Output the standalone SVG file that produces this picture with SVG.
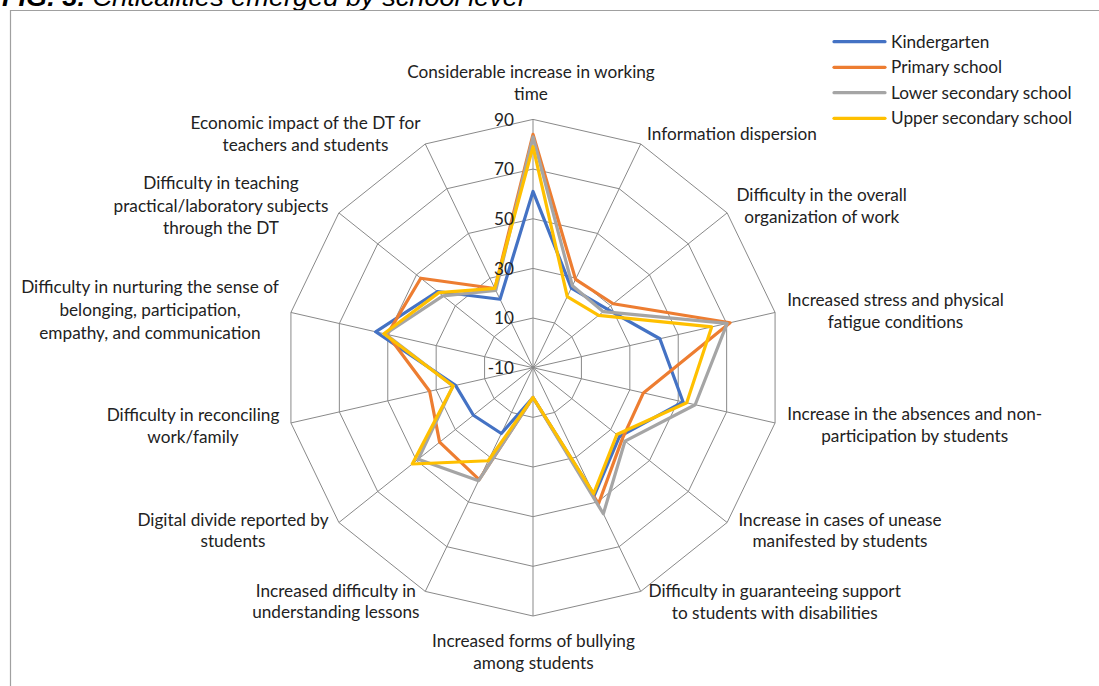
<svg xmlns="http://www.w3.org/2000/svg" xmlns:xlink="http://www.w3.org/1999/xlink" width="1099" height="686" viewBox="0 0 1099 686">
<style>
  .frame { fill:none; stroke:#a0a0a0; stroke-width:1.2; }
  .title { font-family:"Liberation Sans", Arial, sans-serif; font-size:26px; font-style:italic; fill:#000; }
  .title .b { font-weight:bold; }
  .ring, .spokes { fill:none; stroke:#898989; stroke-width:1; vector-effect:non-scaling-stroke; }
  .series { fill:none; stroke-width:3.2; stroke-linejoin:round; vector-effect:non-scaling-stroke; }
  .s1 { stroke:#4472C4; }
  .s2 { stroke:#ED7D31; }
  .s3 { stroke:#A5A5A5; }
  .s4 { stroke:#FFC000; }
  .lbl { font-family:Lato, "Liberation Sans", sans-serif; font-size:17.2px; fill:#222; text-anchor:middle; }
  .tick { font-family:Lato, "Liberation Sans", sans-serif; font-size:17.2px; fill:#222; text-anchor:end; }
  .leg { font-family:Lato, "Liberation Sans", sans-serif; font-size:17.2px; fill:#222; }
  .legline { stroke-width:3.2; stroke-linecap:round; }
</style>

<g id="title">
  <text class="title" x="2" y="6" textLength="522" lengthAdjust="spacingAndGlyphs"><tspan class="b">FIG. 3.</tspan> Criticalities emerged by school level</text>
</g>

<g id="frame">
  <path class="frame" d="M10.5,686 L10.5,10.5 L1099,10.5"/>
</g>

<g id="chart" transform="translate(533 367.7) scale(2.483)">
  <g id="grid">
    <polygon id="ring" class="ring" points="0,-100 43.39,-90.10 78.18,-62.35 97.49,-22.25 97.49,22.25 78.18,62.35 43.39,90.10 0,100 -43.39,90.10 -78.18,62.35 -97.49,22.25 -97.49,-22.25 -78.18,-62.35 -43.39,-90.10"/>
    <polygon class="ring" points="0,-80 34.71,-72.08 62.54,-49.88 77.99,-17.80 77.99,17.80 62.54,49.88 34.71,72.08 0,80 -34.71,72.08 -62.54,49.88 -77.99,17.80 -77.99,-17.80 -62.54,-49.88 -34.71,-72.08"/>
    <polygon class="ring" points="0,-60 26.03,-54.06 46.91,-37.41 58.49,-13.35 58.49,13.35 46.91,37.41 26.03,54.06 0,60 -26.03,54.06 -46.91,37.41 -58.49,13.35 -58.49,-13.35 -46.91,-37.41 -26.03,-54.06"/>
    <polygon class="ring" points="0,-40 17.36,-36.04 31.27,-24.94 39.00,-8.90 39.00,8.90 31.27,24.94 17.36,36.04 0,40 -17.36,36.04 -31.27,24.94 -39.00,8.90 -39.00,-8.90 -31.27,-24.94 -17.36,-36.04"/>
    <polygon class="ring" points="0,-20 8.68,-18.02 15.64,-12.47 19.50,-4.45 19.50,4.45 15.64,12.47 8.68,18.02 0,20 -8.68,18.02 -15.64,12.47 -19.50,4.45 -19.50,-4.45 -15.64,-12.47 -8.68,-18.02"/>
    <path class="spokes" d="M0,0 L0,-100 M0,0 L43.39,-90.10 M0,0 L78.18,-62.35 M0,0 L97.49,-22.25 M0,0 L97.49,22.25 M0,0 L78.18,62.35 M0,0 L43.39,90.10 M0,0 L0,100 M0,0 L-43.39,90.10 M0,0 L-78.18,62.35 M0,0 L-97.49,22.25 M0,0 L-97.49,-22.25 M0,0 L-78.18,-62.35 M0,0 L-43.39,-90.10"/>
  </g>
  <g id="series">
    <polygon id="kindergarten" class="series s1" points="0,-71 15.45,-32.07 29.71,-23.69 51.09,-11.66 60.45,13.80 34.79,27.75 24.73,51.36 0,12 -12.76,26.49 -24.00,19.14 -31.20,7.12 -63.37,-14.46 -38.47,-30.68 -13.28,-27.57"/>
    <polygon id="primary" class="series s2" points="0,-94 17.14,-35.59 32.29,-25.75 79.36,-18.11 44.46,10.15 35.96,28.68 26.38,54.78 0,12 -21.69,45.05 -37.61,29.99 -41.63,9.50 -58.69,-13.40 -45.19,-36.04 -15.36,-31.89"/>
    <polygon id="lower-secondary" class="series s3" points="0,-93 15.88,-32.98 28.30,-22.57 78.19,-17.85 65.32,14.91 37.06,29.55 28.33,58.83 0,12 -21.91,45.50 -46.21,36.85 -32.17,7.34 -59.47,-13.57 -36.28,-28.93 -15.01,-31.17"/>
    <polygon id="upper-secondary" class="series s4" points="0,-89 13.80,-28.65 26.43,-21.07 71.95,-16.42 61.91,14.13 33.77,26.93 24.43,50.72 0,12 -18.05,37.48 -48.63,38.78 -32.17,7.34 -60.06,-13.71 -37.92,-30.24 -15.40,-31.98"/>
  </g>
</g>

<g id="ticks">
  <text class="tick" x="514" y="125.5">90</text>
  <text class="tick" x="514" y="175.2">70</text>
  <text class="tick" x="514" y="224.8">50</text>
  <text class="tick" x="514" y="274.5">30</text>
  <text class="tick" x="514" y="324.1">10</text>
  <text class="tick" x="514" y="373.8">-10</text>
</g>

<g id="categories">
  <g id="cat1"><text class="lbl" x="531" y="77.5">Considerable increase in working</text><text class="lbl" x="531" y="99.5">time</text></g>
  <g id="cat2"><text class="lbl" x="732" y="140">Information dispersion</text></g>
  <g id="cat3"><text class="lbl" x="821.7" y="201">Difficulty in the overall</text><text class="lbl" x="821.7" y="222.5">organization of work</text></g>
  <g id="cat4"><text class="lbl" x="895.5" y="305.7">Increased stress and physical</text><text class="lbl" x="895.5" y="327.7">fatigue conditions</text></g>
  <g id="cat5"><text class="lbl" x="914.7" y="420">Increase in the absences and non-</text><text class="lbl" x="914.7" y="442">participation by students</text></g>
  <g id="cat6"><text class="lbl" x="840" y="525.7">Increase in cases of unease</text><text class="lbl" x="840" y="547">manifested by students</text></g>
  <g id="cat7"><text class="lbl" x="774.7" y="597.3">Difficulty in guaranteeing support</text><text class="lbl" x="774.7" y="618.5">to students with disabilities</text></g>
  <g id="cat8"><text class="lbl" x="533.5" y="646.7">Increased forms of bullying</text><text class="lbl" x="533.5" y="668.5">among students</text></g>
  <g id="cat9"><text class="lbl" x="335.8" y="596.7">Increased difficulty in</text><text class="lbl" x="335.8" y="618">understanding lessons</text></g>
  <g id="cat10"><text class="lbl" x="233" y="525.7">Digital divide reported by</text><text class="lbl" x="233" y="547">students</text></g>
  <g id="cat11"><text class="lbl" x="193" y="420.7">Difficulty in reconciling</text><text class="lbl" x="193" y="443">work/family</text></g>
  <g id="cat12"><text class="lbl" x="150" y="293.3">Difficulty in nurturing the sense of</text><text class="lbl" x="150" y="316">belonging, participation,</text><text class="lbl" x="150" y="339">empathy, and communication</text></g>
  <g id="cat13"><text class="lbl" x="221" y="189.3">Difficulty in teaching</text><text class="lbl" x="221" y="211.7">practical/laboratory subjects</text><text class="lbl" x="221" y="234.3">through the DT</text></g>
  <g id="cat14"><text class="lbl" x="305.5" y="129.3">Economic impact of the DT for</text><text class="lbl" x="305.5" y="151">teachers and students</text></g>
</g>

<g id="legend">
  <g id="leg1"><line class="legline s1" x1="834" y1="41.7" x2="885" y2="41.7"/><text class="leg" x="891" y="47.5">Kindergarten</text></g>
  <g id="leg2"><line class="legline s2" x1="834" y1="67.3" x2="885" y2="67.3"/><text class="leg" x="891" y="73">Primary school</text></g>
  <g id="leg3"><line class="legline s3" x1="834" y1="92.7" x2="885" y2="92.7"/><text class="leg" x="891" y="98.5">Lower secondary school</text></g>
  <g id="leg4"><line class="legline s4" x1="834" y1="118.3" x2="885" y2="118.3"/><text class="leg" x="891" y="124">Upper secondary school</text></g>
</g>
</svg>
